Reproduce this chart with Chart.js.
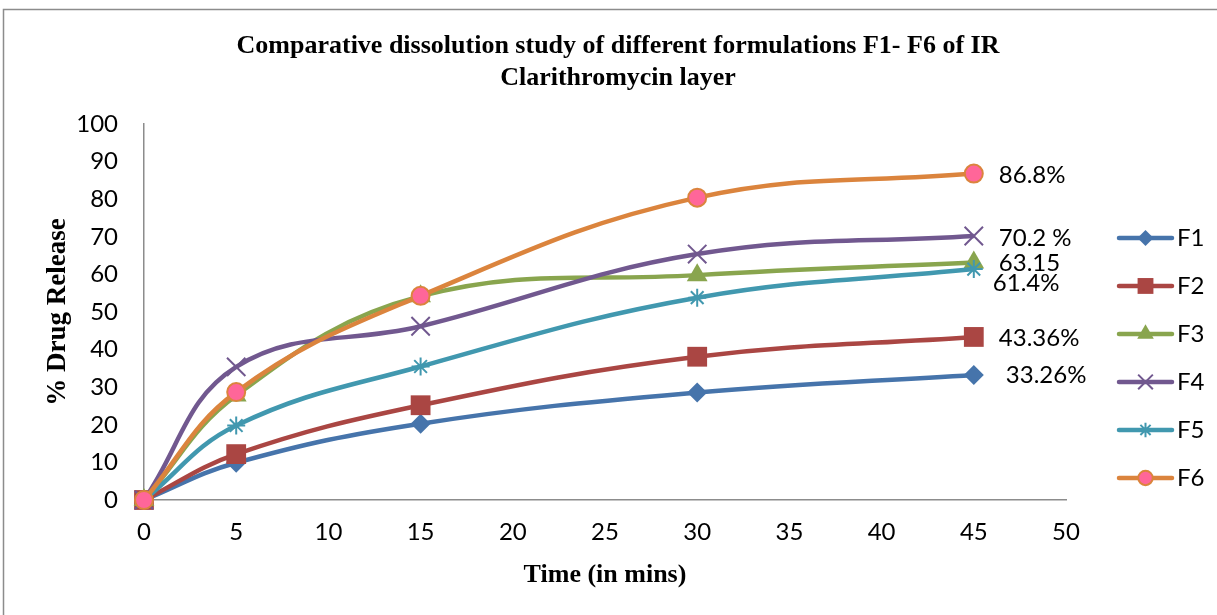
<!DOCTYPE html>
<html>
<head>
<meta charset="utf-8">
<script src="https://cdn.jsdelivr.net/npm/chart.js@4.4.0/dist/chart.umd.min.js"></script>
<style>
  html, body { margin: 0; padding: 0; background: #fff; }
  #wrap { width: 1217px; height: 615px; }
</style>
</head>
<body>
<div id="wrap"><canvas id="dissolutionChart"></canvas></div>
<script>
// time points (min) and % drug release of each formulation
const times = [0, 5, 15, 30, 45];
const F1 = [0, 9.9, 20.3, 28.6, 33.26];
const F2 = [0, 12.2, 25.2, 38.1, 43.36];
const F3 = [0, 27.8, 54.2, 59.8, 63.15];
const F4 = [0, 35.4, 46.2, 65.4, 70.2];
const F5 = [0, 19.8, 35.5, 53.8, 61.4];
const F6 = [0, 28.7, 54.3, 80.4, 86.8];
const seriesNames = ['F1', 'F2', 'F3', 'F4', 'F5', 'F6'];
const endLabels = ['33.26%', '43.36%', '63.15', '70.2 %', '61.4%', '86.8%'];

const seriesData = [F1, F2, F3, F4, F5, F6];

// styles
const lineColors = ['#4674AB', '#AA4643', '#89A54E', '#71588F', '#4198AF', '#DB843D'];
const markerFills = ['#4674AB', '#AA4643', '#89A54E', '#71588F', '#4198AF', '#FF6699'];
const markerStyles = ['rectRot', 'rect', 'triangle', 'crossRot', 'star', 'circle'];
const markerSizes = [10, 14, 12, 13, 9, 9];
const markerBorders = [0, 0, 0, 2, 2, 2];
const labelShift = [[32, 0], [25, 1], [25, 1], [25, 2], [19, 14], [25, 2]];

const tickFont = { family: 'Lato', size: 24 };
const boldSerif = { family: 'Liberation Serif', size: 26, weight: 'bold' };

// white page + thin grey frame
const framePlugin = {
    id: 'frame',
    beforeDraw(chart) {
        const ctx = chart.ctx;
        ctx.save();
        ctx.fillStyle = '#fff';
        ctx.fillRect(0, 0, chart.width, chart.height);
        ctx.strokeStyle = '#8c8c8c';
        ctx.lineWidth = 1.5;
        ctx.strokeRect(3.5, 9.5, chart.width + 20, chart.height + 20);
        ctx.restore();
    }
};

// legend on the right: line with marker, then name
const sideLegend = {
    id: 'sideLegend',
    beforeInit(chart) {
        const box = {
            position: 'right',
            weight: 10,
            fullSize: false,
            options: {},
            isHorizontal() { return false; },
            update(maxWidth, maxHeight) { this.width = 151; this.height = maxHeight; },
            draw() {
                const ctx = chart.ctx;
                ctx.save();
                seriesNames.forEach((name, i) => {
                    const y = this.top + 114 + i * 48;
                    const x0 = this.left + 53, x1 = this.left + 106;
                    ctx.strokeStyle = lineColors[i];
                    ctx.lineWidth = 4.5;
                    ctx.lineCap = 'round';
                    ctx.beginPath();
                    ctx.moveTo(x0, y);
                    ctx.lineTo(x1, y);
                    ctx.stroke();
                    ctx.fillStyle = markerFills[i];
                    ctx.strokeStyle = lineColors[i];
                    ctx.lineCap = 'butt';
                    ctx.lineWidth = markerBorders[i] || 1;
                    Chart.helpers.drawPoint(ctx, {
                        pointStyle: markerStyles[i],
                        radius: markerSizes[i] * 0.8,
                        rotation: 0,
                        borderWidth: markerBorders[i]
                    }, (x0 + x1) / 2, y);
                    ctx.fillStyle = '#000';
                    ctx.font = '24px Lato';
                    ctx.textBaseline = 'middle';
                    ctx.fillText(name, x1 + 5, y);
                });
                ctx.restore();
            }
        };
        Chart.layouts.addBox(chart, box);
    }
};

// value written next to the last point of each series
const endLabelPlugin = {
    id: 'endLabels',
    afterDatasetsDraw(chart) {
        const ctx = chart.ctx;
        ctx.save();
        ctx.font = '24px Lato';
        ctx.fillStyle = '#000';
        ctx.textBaseline = 'middle';
        chart.data.datasets.forEach((ds, i) => {
            const pts = chart.getDatasetMeta(i).data;
            const p = pts[pts.length - 1];
            ctx.fillText(endLabels[i], p.x + labelShift[i][0], p.y + labelShift[i][1]);
        });
        ctx.restore();
    }
};

const ctxA = document.getElementById('dissolutionChart');
const dissolutionChart = new Chart(ctxA, {
    type: 'line',
    data: {
        datasets: seriesNames.map((name, i) => ({
            label: name,
            data: times.map((t, j) => ({ x: t, y: seriesData[i][j] })),
            borderColor: lineColors[i],
            backgroundColor: markerFills[i],
            borderWidth: 4.5,
            tension: 0.4,
            pointStyle: markerStyles[i],
            pointRadius: markerSizes[i],
            pointBackgroundColor: markerFills[i],
            pointBorderColor: lineColors[i],
            pointBorderWidth: markerBorders[i],
            clip: false,
            order: 6 - i
        }))
    },
    options: {
        responsive: true,
        maintainAspectRatio: false,
        animation: false,
        events: [],
        layout: { padding: { left: 19, right: 0, top: 0, bottom: 0 } },
        scales: {
            x: {
                type: 'linear',
                min: 0,
                max: 50,
                afterFit(scale) { scale.height = 115; },
                grid: { display: false, drawTicks: false },
                border: { display: true, color: '#8c8c8c', width: 1.5 },
                ticks: { stepSize: 5, color: '#000', font: tickFont, padding: 18 },
                title: {
                    display: true,
                    text: 'Time (in mins)',
                    color: '#000',
                    font: boldSerif,
                    padding: { top: 0, bottom: 24 }
                }
            },
            y: {
                min: 0,
                max: 100,
                afterFit(scale) { scale.width = 125; },
                grid: { display: false, drawTicks: false },
                border: { display: true, color: '#8c8c8c', width: 1.5 },
                ticks: { stepSize: 10, color: '#000', font: tickFont, padding: 26 },
                title: {
                    display: true,
                    text: '% Drug Release',
                    color: '#000',
                    font: { family: 'Liberation Serif', size: 27, weight: 'bold' },
                    padding: { top: 23, bottom: 0 }
                }
            }
        },
        plugins: {
            legend: { display: false },
            tooltip: { enabled: false },
            title: {
                display: true,
                text: ['Comparative dissolution study of different formulations F1- F6 of IR', 'Clarithromycin layer'],
                color: '#000',
                font: { family: 'Liberation Serif', size: 26, weight: 'bold', lineHeight: 1.23 },
                padding: { top: 30, bottom: 30 }
            }
        }
    },
    plugins: [framePlugin, sideLegend, endLabelPlugin]
});
</script>
</body>
</html>
